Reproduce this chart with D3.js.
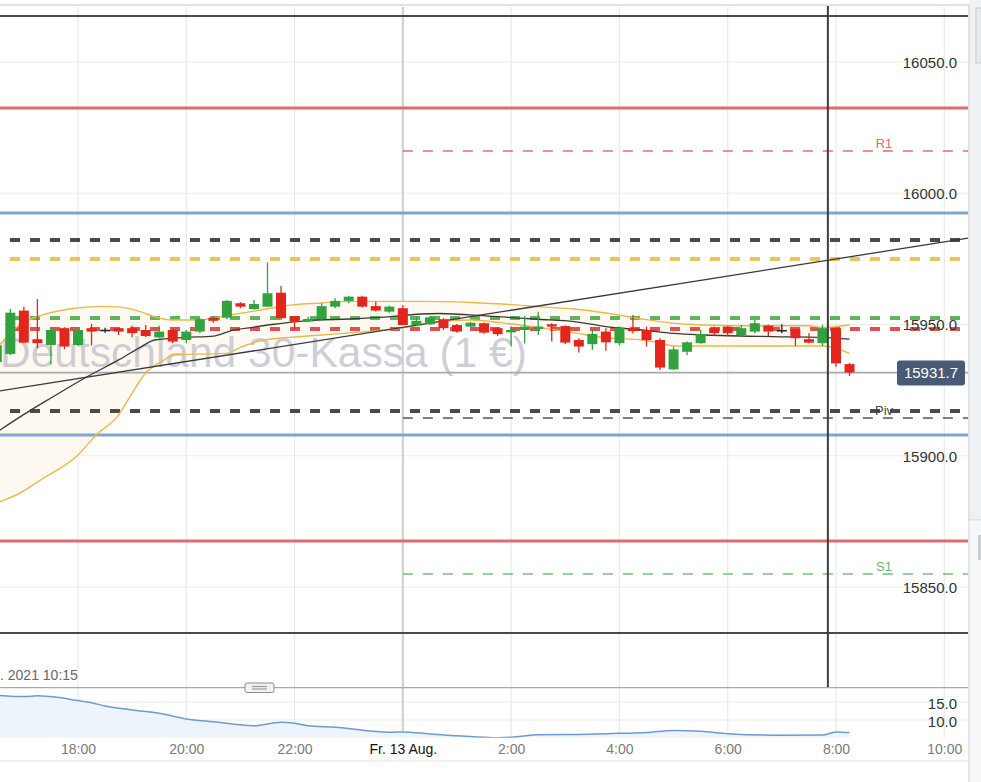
<!DOCTYPE html>
<html><head><meta charset="utf-8">
<script src="https://cdn.jsdelivr.net/npm/d3@7"></script>
<style>html,body{margin:0;padding:0;background:#fff;overflow:hidden}svg{display:block}</style>
</head><body><svg id="c" width="981" height="782"></svg>
<script>
// ---------- DATA ----------
const candleTimes = ["16:30","16:45","17:00","17:15","17:30","17:45","18:00","18:15",
 "18:30","18:45","19:00","19:15","19:30","19:45","20:00","20:15",
 "20:30","20:45","21:00","21:15","21:30","21:45","22:00","22:15",
 "22:30","22:45","23:00","23:15","23:30","23:45","00:00","00:15",
 "00:30","00:45","01:00","01:15","01:30","01:45","02:00","02:15",
 "02:30","02:45","03:00","03:15","03:30","03:45","04:00","04:15",
 "04:30","04:45","05:00","05:15","05:30","05:45","06:00","06:15",
 "06:30","06:45","07:00","07:15","07:30","07:45","08:00","08:15"];
const opens = [15935.7,15938.8,15955.3,15944.4,15942.2,15948.6,15942.2,15948.6,
 15948.0,15948.6,15948.6,15947.9,15945.1,15947.9,15944.1,15947.3,
 15952.6,15952.6,15958.1,15955.9,15956.8,15962.1,15953.2,15951.1,
 15952.1,15956.8,15959.0,15960.6,15957.0,15954.9,15956.2,15949.8,
 15950.1,15952.0,15949.8,15949.2,15950.5,15948.6,15947.0,15947.9,
 15948.2,15950.1,15949.4,15944.1,15942.5,15947.3,15942.9,15948.6,
 15947.9,15944.1,15932.9,15939.6,15942.9,15948.6,15949.2,15946.0,
 15947.3,15949.6,15947.9,15948.2,15944.4,15942.9,15948.6,15934.9];
const highs = [15944.0,15955.9,15956.8,15959.7,15948.0,15949.0,15948.2,15950.2,
 15948.8,15948.8,15949.5,15949.8,15949.5,15948.2,15947.9,15952.5,
 15953.0,15959.3,15958.5,15959.3,15973.7,15964.7,15953.3,15953.0,
 15958.1,15960.0,15961.0,15961.0,15958.7,15957.2,15957.4,15953.2,
 15953.2,15952.4,15950.2,15951.0,15950.8,15949.0,15949.2,15953.3,
 15954.9,15950.5,15949.6,15944.8,15948.2,15948.6,15949.3,15953.6,
 15949.2,15944.8,15941.6,15943.5,15947.9,15949.2,15949.5,15949.8,
 15951.7,15950.0,15950.1,15948.5,15946.7,15949.8,15948.8,15935.4];
const lows = [15934.0,15938.4,15942.9,15941.0,15934.8,15940.6,15941.8,15942.0,
 15946.9,15946.0,15945.1,15945.1,15945.0,15942.9,15942.9,15946.8,
 15950.7,15952.0,15956.2,15955.6,15956.6,15951.7,15947.9,15950.9,
 15951.9,15956.2,15958.1,15956.5,15955.0,15954.5,15949.7,15949.5,
 15949.8,15947.9,15946.9,15948.8,15946.5,15945.6,15941.6,15942.8,
 15946.0,15943.5,15942.6,15939.3,15940.3,15940.0,15942.0,15946.6,
 15941.6,15932.7,15932.7,15938.4,15942.7,15945.8,15945.6,15945.4,
 15946.7,15945.4,15946.7,15941.8,15942.9,15941.8,15933.9,15930.4];
const closes = [15942.1,15954.5,15943.1,15942.9,15947.9,15941.6,15947.9,15947.3,
 15948.0,15947.3,15946.7,15945.6,15947.3,15943.5,15947.3,15952.0,
 15951.4,15959.0,15956.8,15957.8,15961.9,15952.4,15951.1,15952.1,
 15957.0,15959.0,15960.6,15956.8,15955.3,15956.8,15949.8,15951.4,
 15952.7,15948.6,15947.3,15950.7,15946.9,15946.3,15947.9,15949.2,
 15949.2,15949.2,15943.1,15941.6,15946.4,15943.2,15948.8,15947.5,
 15944.1,15933.6,15940.5,15943.2,15946.4,15946.7,15946.7,15948.6,
 15950.5,15947.3,15947.9,15944.8,15943.1,15948.6,15935.2,15931.7];

const upperTimes = ["16:30","16:55","17:20","17:50","18:25","18:45","19:10","19:25","19:45","20:15","20:30","20:55","21:15","21:35","21:55","22:30","23:00","00:20","01:15","01:50","02:35","03:10","03:45","04:25","05:00","05:35","06:15","07:30","07:45","08:15"];
const upperValues = [15941.0,15949.8,15953.6,15955.9,15956.9,15956.7,15954.8,15952.9,15951.7,15951.7,15952.5,15954.0,15955.1,15956.3,15957.4,15958.2,15958.8,15958.8,15958.4,15957.8,15956.7,15955.9,15954.4,15952.1,15950.5,15949.8,15949.5,15949.5,15948.9,15949.8];
const lowerTimes = ["16:30","16:55","17:20","18:00","18:20","18:45","19:00","19:15","19:35","19:45","20:45","21:00","21:25","21:55","22:30","23:05","23:40","00:20","00:40","01:15","01:50","02:30","03:10","03:45","04:25","04:45","05:00","06:15","07:30","07:45","08:15"];
const lowerValues = [15882.0,15885.7,15891.1,15900.3,15907.9,15915.5,15923.9,15931.5,15936.4,15938.4,15939.0,15941.3,15944.0,15945.1,15946.0,15946.9,15947.9,15949.8,15951.1,15951.7,15950.6,15948.9,15946.8,15944.9,15944.1,15943.0,15941.8,15941.8,15941.8,15941.8,15939.0];
const maTimes = ["16:30","17:05","17:30","18:10","18:45","19:10","19:25","20:00","20:30","20:50","21:15","21:35","22:15","23:00","23:35","00:20","00:40","01:35","02:30","03:10","03:45","04:25","05:00","05:35","06:50","07:45","08:15"];
const maValues = [15909.0,15916.8,15922.0,15930.1,15936.5,15941.5,15944.1,15945.1,15945.6,15947.7,15949.0,15950.0,15951.5,15952.1,15952.7,15954.0,15954.2,15953.2,15952.0,15951.1,15949.2,15947.9,15946.6,15946.0,15945.4,15945.1,15944.4];
const trendTimes = ["16:30","10:30"];
const trendValues = [15924.5,15983.1];

const levelValues = [16067.5,16032.5,15992.5,15982.2,15975.0,15952.5,15948.1,15917.2,15907.9,15867.5,15832.5];
const levelKinds  = ["darkSolid","redSolid","blueSolid","darkDash","yellowDash","greenDash","redDash","darkDash","blueSolid","redSolid","darkSolid"];
const pivotNames  = ["R1","Piv","S1"];
const pivotValues = [16016.1,15914.4,15855.0];
const pivotStart  = "00:00";
const lastPrice   = 15931.7;
const cursorTime  = "07:51";

const priceTicks = [15850,15900,15950,16000,16050];
const timeTicks  = ["18:00","20:00","22:00","00:00","02:00","04:00","06:00","08:00","10:00"];
const timeLabels = ["18:00","20:00","22:00","Fr. 13 Aug.","2:00","4:00","6:00","8:00","10:00"];

const indTimes  = ["16:30","17:00","17:15","17:30","18:00","18:15","18:30","19:00","19:30","20:00","20:30","21:15","21:45","22:00","22:15","22:45","23:45","00:00","00:30","01:15","01:45","02:00","02:30","03:15","04:00","04:30","05:00","05:30","06:00","07:00","07:45","08:00","08:15"];
const indValues = [16.9,16.5,16.75,16.5,15.4,14.8,13.9,12.8,11.9,10.3,9.5,8.4,9.4,9.1,8.4,8.0,6.6,6.7,6.1,5.4,5.1,5.2,5.9,6.0,6.3,6.5,7.1,6.9,6.2,5.75,5.8,6.7,6.5];
const indTicks = [10,15];

const watermark = "Deutschland 30-Kassa (1 €)";
const dateStamp = ". 2021 10:15";

// ---------- HELPERS ----------
const T = s => { const [h,m] = s.split(":").map(Number); return new Date(2021,7,h>=12?12:13,h,m); };
const FONT = "'Liberation Sans', Arial, sans-serif";
const W = 981, H = 782, PR = 968, TOP = 5, SEP = 687.7, IBOT = 737.7, XB = 761;

const svg = d3.select("#c");
const x = d3.scaleTime().domain([T("18:00"), T("08:00")]).range([78, 836]);
const y = d3.scaleLinear().domain([15850, 16050]).range([587, 62]);
const yi = d3.scaleLinear().domain([10, 15]).range([720, 702]);

svg.append("rect").attr("width",W).attr("height",H).attr("fill","#fff");

const defs = svg.append("defs");
defs.append("clipPath").attr("id","cp").append("rect").attr("x",0).attr("y",TOP+1).attr("width",PR).attr("height",SEP-TOP-1);
defs.append("clipPath").attr("id","ci").append("rect").attr("x",0).attr("y",SEP).attr("width",PR).attr("height",IBOT-SEP);

// top border
svg.append("line").attr("x1",0).attr("x2",W).attr("y1",TOP).attr("y2",TOP).attr("stroke","#d9d9d9").attr("stroke-width",1.5);

// gridlines
const grid = svg.append("g");
grid.selectAll(".hg").data(priceTicks).join("line")
  .attr("x1",0).attr("x2",PR).attr("y1",d=>y(d)).attr("y2",d=>y(d))
  .attr("stroke","#ececec").attr("stroke-width",1.2);
grid.selectAll(".ig").data(indTicks).join("line")
  .attr("x1",0).attr("x2",PR).attr("y1",d=>yi(d)).attr("y2",d=>yi(d))
  .attr("stroke","#ececec").attr("stroke-width",1.2);
grid.selectAll(".vg").data(timeTicks).join("line")
  .attr("x1",d=>x(T(d))).attr("x2",d=>x(T(d))).attr("y1",TOP+2).attr("y2",IBOT)
  .attr("stroke",d=>d==="00:00"?"#d2d2d2":"#e9e9e9").attr("stroke-width",d=>d==="00:00"?2.2:1.2);

// ---------- PRICE PANEL ----------
const P = svg.append("g").attr("clip-path","url(#cp)");

const bandData = upperTimes.map((t,i)=>({t:T(t),v:upperValues[i]}));
const lowData = lowerTimes.map((t,i)=>({t:T(t),v:lowerValues[i]}));
const lineGen = d3.line().x(d=>x(d.t)).y(d=>y(d.v)).curve(d3.curveMonotoneX);
const upPath = lineGen(bandData);
const loPath = lineGen(lowData.slice().reverse());
P.append("path").attr("d", upPath + "L" + loPath.slice(1) + "Z").attr("fill","#fdf9f1").attr("stroke","none");

// watermark
P.append("text").attr("x",0).attr("y",367).attr("font-family",FONT).attr("font-size",42.5)
  .attr("fill","#c6c6cf").attr("fill-opacity",0.85).text(watermark);

// level lines
const styles = {
  darkSolid:{c:"#4a4a4a",w:2,d:null},
  redSolid:{c:"#e06b6b",w:3,d:null},
  blueSolid:{c:"#7ea6d0",w:3,d:null},
  darkDash:{c:"#4a4a4a",w:4,d:"10,10"},
  yellowDash:{c:"#efc25a",w:4,d:"10,10"},
  greenDash:{c:"#5cb55c",w:4,d:"10,10"},
  redDash:{c:"#e05252",w:4,d:"10,10"}
};
P.selectAll(".lv").data(levelValues).join("line")
  .attr("x1",0).attr("x2",PR).attr("y1",d=>Math.round(y(d))).attr("y2",d=>Math.round(y(d)))
  .attr("stroke",(d,i)=>styles[levelKinds[i]].c)
  .attr("stroke-width",(d,i)=>styles[levelKinds[i]].w)
  .attr("stroke-dasharray",(d,i)=>styles[levelKinds[i]].d)
  .attr("stroke-dashoffset",10);

// pivot lines
const pivColors = ["#e3687a","#555","#78bd78"];
const pivLabelColors = ["#e06d6d","#444","#6db56d"];
P.selectAll(".pv").data(pivotValues).join("line")
  .attr("x1",x(T(pivotStart))).attr("x2",PR).attr("y1",d=>Math.round(y(d))).attr("y2",d=>Math.round(y(d)))
  .attr("stroke",(d,i)=>pivColors[i]).attr("stroke-width",1.5).attr("stroke-dasharray","10,10");
P.selectAll(".pl").data(pivotValues).join("text")
  .attr("x",884).attr("y",d=>y(d)-3).attr("text-anchor","middle")
  .attr("font-family",FONT).attr("font-size",13).attr("fill",(d,i)=>pivLabelColors[i])
  .text((d,i)=>pivotNames[i]);

// last price line
P.append("line").attr("x1",0).attr("x2",PR).attr("y1",y(lastPrice)).attr("y2",y(lastPrice))
  .attr("stroke","#a3aab2").attr("stroke-width",1.8);

// bands and MAs
P.append("path").attr("d",upPath).attr("fill","none").attr("stroke","#edb84a").attr("stroke-width",1.4);
P.append("path").attr("d",lineGen(lowData)).attr("fill","none").attr("stroke","#edb84a").attr("stroke-width",1.4);
const maData = maTimes.map((t,i)=>({t:T(t),v:maValues[i]}));
P.append("path").attr("d",lineGen(maData)).attr("fill","none").attr("stroke","#3a3a3a").attr("stroke-width",1.3);
const trData = trendTimes.map((t,i)=>({t:T(t),v:trendValues[i]}));
P.append("path").attr("d",d3.line().x(d=>x(d.t)).y(d=>y(d.v))(trData)).attr("fill","none").attr("stroke","#3a3a3a").attr("stroke-width",1.3);

// candles
const candles = candleTimes.map((t,i)=>({t:T(t),o:opens[i],h:highs[i],l:lows[i],c:closes[i]}));
const col = d => d.c>d.o ? "#31a23d" : d.c<d.o ? "#e2261c" : "#222";
const bw = 10;
const cg = P.append("g");
cg.selectAll(".wk").data(candles).join("line")
  .attr("x1",d=>x(d.t)).attr("x2",d=>x(d.t)).attr("y1",d=>y(d.h)).attr("y2",d=>y(d.l))
  .attr("stroke",col).attr("stroke-width",1.3);
cg.selectAll(".bd").data(candles).join("rect")
  .attr("x",d=>x(d.t)-bw/2).attr("width",bw)
  .attr("y",d=>y(Math.max(d.o,d.c)))
  .attr("height",d=>Math.max(1.5,Math.abs(y(d.o)-y(d.c))))
  .attr("fill",col);

// crosshair vertical
svg.append("line").attr("x1",x(T(cursorTime))).attr("x2",x(T(cursorTime))).attr("y1",TOP+1).attr("y2",SEP)
  .attr("stroke","#3d3d3d").attr("stroke-width",2);

// price axis labels
const ya = svg.append("g").attr("transform","translate(960,0)")
  .call(d3.axisLeft(y).tickValues(priceTicks).tickFormat(d3.format(".1f")).tickSize(0).tickPadding(3));
ya.select(".domain").remove();
ya.selectAll("text").attr("font-family",FONT).attr("font-size",15).attr("fill","#333").attr("dy","0.36em");

// last price tag
const tagY = y(lastPrice);
svg.append("rect").attr("x",897).attr("y",tagY-12).attr("width",68).attr("height",25).attr("rx",3).attr("fill","#485a75");
svg.append("text").attr("x",931).attr("y",tagY+5.5).attr("text-anchor","middle").attr("font-family",FONT)
  .attr("font-size",15).attr("fill","#fff").text(d3.format(".1f")(lastPrice));

// ---------- INDICATOR PANEL ----------
svg.append("line").attr("x1",0).attr("x2",PR).attr("y1",SEP).attr("y2",SEP).attr("stroke","#a9a9a9").attr("stroke-width",1.3);
const I = svg.append("g").attr("clip-path","url(#ci)");
const indData = indTimes.map((t,i)=>({t:T(t),v:indValues[i]}));
I.append("path").attr("d",d3.area().x(d=>x(d.t)).y0(IBOT).y1(d=>yi(d.v)).curve(d3.curveMonotoneX)(indData))
  .attr("fill","#eef4fb");
I.append("path").attr("d",d3.line().x(d=>x(d.t)).y(d=>yi(d.v)).curve(d3.curveMonotoneX)(indData))
  .attr("fill","none").attr("stroke","#6b9bd0").attr("stroke-width",1.5);
const ia = svg.append("g").attr("transform","translate(960,0)")
  .call(d3.axisLeft(yi).tickValues(indTicks).tickFormat(d3.format(".1f")).tickSize(0).tickPadding(3));
ia.select(".domain").remove();
ia.selectAll("text").attr("font-family",FONT).attr("font-size",15).attr("fill","#333").attr("dy","0.4em");

// handle
svg.append("rect").attr("x",245).attr("y",683).attr("width",29).attr("height",9.5).attr("rx",2)
  .attr("fill","#f3f3f3").attr("stroke","#8c8c8c").attr("stroke-width",1);
svg.append("line").attr("x1",252).attr("x2",267).attr("y1",686.5).attr("y2",686.5).attr("stroke","#9a9a9a").attr("stroke-width",1.2);
svg.append("line").attr("x1",252).attr("x2",267).attr("y1",689).attr("y2",689).attr("stroke","#9a9a9a").attr("stroke-width",1.2);

// date stamp
svg.append("text").attr("x",0).attr("y",680).attr("font-family",FONT).attr("font-size",14).attr("fill","#666").text(dateStamp);

// x axis
const xa = svg.append("g").attr("transform",`translate(0,${IBOT})`)
  .call(d3.axisBottom(x).tickValues(timeTicks.map(T)).tickFormat((d,i)=>timeLabels[i]).tickSize(0).tickPadding(6));
xa.select(".domain").remove();
xa.selectAll("text").attr("font-family",FONT).attr("font-size",14)
  .attr("fill",(d,i)=>i===3?"#111":"#7a7a7a");
svg.append("line").attr("x1",0).attr("x2",PR).attr("y1",XB).attr("y2",XB).attr("stroke","#e2e2e2").attr("stroke-width",1.2);

// right strip
svg.append("rect").attr("x",969).attr("y",0).attr("width",12).attr("height",H).attr("fill","#eef2f4");
svg.append("line").attr("x1",969).attr("x2",969).attr("y1",TOP).attr("y2",H).attr("stroke","#d6dbde").attr("stroke-width",1.5);
svg.append("rect").attr("x",976).attr("y",8).attr("width",6).attr("height",55).attr("fill","#e6eaec").attr("stroke","#c5cbce");
svg.append("line").attr("x1",969).attr("x2",981).attr("y1",520).attr("y2",520).attr("stroke","#d0d6d9");
svg.append("rect").attr("x",969.5).attr("y",520.5).attr("width",12).attr("height",262).attr("fill","#f5f7f8");
svg.append("rect").attr("x",978).attr("y",535).attr("width",4).attr("height",25).attr("fill","#c8cdd0");
</script></body></html>
